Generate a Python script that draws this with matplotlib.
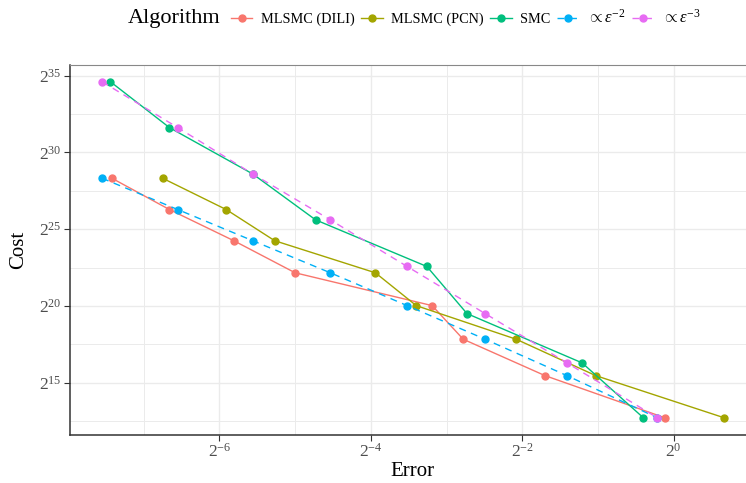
import numpy as np
import matplotlib
matplotlib.use("Agg")
import matplotlib.pyplot as plt
from matplotlib.ticker import FixedLocator, FuncFormatter, NullFormatter

plt.rcParams["font.family"] = ["Liberation Serif", "DejaVu Serif"]
plt.rcParams["mathtext.fontset"] = "custom"
plt.rcParams["mathtext.rm"] = "Liberation Serif"
plt.rcParams["mathtext.it"] = "Liberation Serif:italic"

# log2 of error / cost
labels = ["MLSMC (DILI)", "MLSMC (PCN)", "SMC", r"$\propto\varepsilon^{-2}$", r"$\propto\varepsilon^{-3}$"]
colors = ["#F8766D", "#A3A500", "#00BF7D", "#00B0F6", "#E76BF3"]
styles = ["-", "-", "-", "--", "--"]

dili_err = [-7.42, -6.66, -5.81, -5.00, -3.19, -2.78, -1.70, -0.115]
dili_cost = [28.32, 26.28, 24.25, 22.16, 20.02, 17.83, 15.46, 12.71]
pcn_err = [-6.75, -5.91, -5.27, -3.94, -3.40, -2.08, -1.03, 0.668]
pcn_cost = [28.32, 26.28, 24.25, 22.16, 20.02, 17.83, 15.46, 12.71]
smc_err = [-7.44, -6.66, -5.56, -4.73, -3.26, -2.73, -1.21, -0.40]
smc_cost = [34.61, 31.62, 28.60, 25.61, 22.57, 19.50, 16.29, 12.71]
eps2_err = [-7.55, -6.55, -5.56, -4.535, -3.52, -2.49, -1.41, -0.216]
eps2_cost = [28.32, 26.28, 24.25, 22.16, 20.02, 17.83, 15.46, 12.71]
eps3_err = [-7.55, -6.55, -5.56, -4.535, -3.52, -2.49, -1.41, -0.216]
eps3_cost = [34.61, 31.62, 28.60, 25.61, 22.57, 19.50, 16.29, 12.71]

series = [(dili_err, dili_cost), (pcn_err, pcn_cost), (smc_err, smc_cost),
          (eps2_err, eps2_cost), (eps3_err, eps3_cost)]

fig = plt.figure(figsize=(7.46, 4.83), dpi=100)
ax = fig.add_axes([0.0942, 0.100, 0.9185, 0.7648])

for (e, c), lab, col, ls in zip(series, labels, colors, styles):
    ax.plot(2.0 ** np.array(e), 2.0 ** np.array(c), ls, color=col, lw=1.0,
            marker="o", markersize=5, label=lab, dashes=(5, 4) if ls == "--" else (None, None))

ax.set_xscale("log", base=2)
ax.set_yscale("log", base=2)
ax.set_xlim(2 ** -7.97, 2 ** 1.08)
ax.set_ylim(2 ** 11.61, 2 ** 35.68)

ax.xaxis.set_major_locator(FixedLocator([2.0 ** k for k in (-6, -4, -2, 0)]))
ax.xaxis.set_minor_locator(FixedLocator([2.0 ** k for k in (-7, -5, -3, -1, 1)]))
ax.yaxis.set_major_locator(FixedLocator([2.0 ** k for k in (15, 20, 25, 30, 35)]))
ax.yaxis.set_minor_locator(FixedLocator([2.0 ** k for k in (12.5, 17.5, 22.5, 27.5, 32.5)]))
fmt = FuncFormatter(lambda v, p: r"$2^{%d}$" % round(np.log2(v)))
ax.xaxis.set_major_formatter(fmt)
ax.yaxis.set_major_formatter(fmt)
ax.xaxis.set_minor_formatter(NullFormatter())
ax.yaxis.set_minor_formatter(NullFormatter())

ax.grid(True, which="major", color="#EBEBEB", lw=1.0)
ax.grid(True, which="minor", color="#EBEBEB", lw=0.7)
ax.set_axisbelow(True)
ax.tick_params(which="major", length=4, width=0.8, color="#333333",
               labelcolor="#4D4D4D", labelsize=12.5)
ax.tick_params(axis="x", which="major", pad=2)
ax.tick_params(axis="y", which="major", pad=2)
ax.tick_params(which="minor", length=0)

for s in ("left", "bottom"):
    ax.spines[s].set_color("#333333")
    ax.spines[s].set_linewidth(1.1)
ax.spines["top"].set_color("#888888")
ax.spines["top"].set_linewidth(0.8)
ax.spines["right"].set_visible(False)

ax.set_xlabel("Error", fontsize=15, labelpad=1)
ax.set_ylabel("Cost", fontsize=15, labelpad=8)

fig.text(128 / 746, 1 - 19 / 483, "Algorithm", fontsize=16, va="center", ha="left")
leg = ax.legend(loc="center left", bbox_to_anchor=(231 / 746, 1 - 18 / 483),
                bbox_transform=fig.transFigure, ncol=5, frameon=False,
                fontsize=10.3, handlelength=1.5, handletextpad=0.6,
                columnspacing=0.45, borderpad=0, borderaxespad=0)
for t in leg.get_texts()[3:]:
    t.set_fontsize(12)

fig.savefig("out.png", dpi=100)
